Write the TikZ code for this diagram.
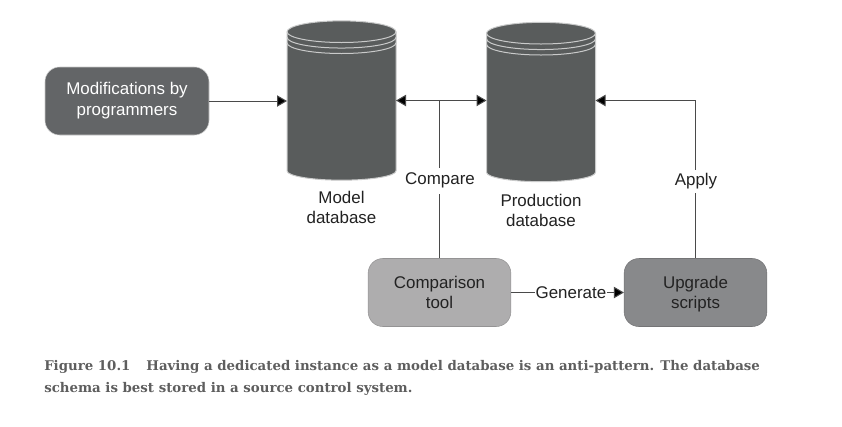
\documentclass[tikz,border=0pt]{standalone}
\usepackage{fontspec}
\setmainfont{Liberation Sans}
\newfontfamily\capfont{DejaVu Serif}
\usetikzlibrary{arrows.meta, positioning}
\definecolor{disk}{HTML}{595C5C}
\definecolor{rim}{HTML}{C9CACA}
\definecolor{wire}{HTML}{4A4A4A}
\definecolor{ink}{HTML}{222222}
\definecolor{capgray}{HTML}{5E5E5E}
\definecolor{modsfill}{HTML}{636567}
\definecolor{cmpfill}{HTML}{AEADAE}
\definecolor{upgfill}{HTML}{88898B}
\tikzset{
	disknode/.style={rectangle, minimum width=81.75pt, minimum height=119.5pt, inner sep=0pt, outer sep=0pt},
	diskbody/.style={fill=disk, draw=rim, line width=0.75pt},
	rimline/.style={draw=rim, line width=0.75pt},
	boxnode/.style={rectangle, rounded corners=11pt, draw=#1!85!black, fill=#1, minimum width=107pt, minimum height=51pt, align=center, text=ink, inner sep=0pt, font=\fontsize{12.7}{15}\selectfont},
	lbl/.style={align=center, text=ink, fill=white, inner sep=1.5pt, font=\fontsize{12.7}{15}\selectfont},
	wireline/.style={draw=wire, line width=0.75pt},
	arrowline/.style={wireline, -{Triangle[length=7.5pt,width=8.5pt,fill=black]}}
}
\begin{document}
\begin{tikzpicture}[x=0.75pt,y=-0.75pt]
	\useasboundingbox (0,0) rectangle (842,426);
	\node[boxnode=modsfill, draw=rim, text=white, minimum width=123pt, font=\fontsize{12.7}{15.75}\selectfont] (mods) at (127,101) {Modifications by\\programmers};
	\node[disknode] (model) at (341.5,100.5) {};
	\node[disknode] (prod) at (541,102) {};
	\foreach \d in {model,prod} {
		\draw[diskbody] ([yshift=-8.25pt]\d.north west) arc[start angle=180, end angle=0, x radius=40.875pt, y radius=8.25pt] -- ([yshift=7pt]\d.south east) arc[start angle=0, end angle=-180, x radius=40.875pt, y radius=7pt] -- cycle;
		\foreach \s in {8.25,12.4,16.5}
			\draw[rimline] ([yshift=-\s pt]\d.north west) arc[start angle=180, end angle=360, x radius=40.875pt, y radius=8pt];
	}
	\node[below=6.5pt of model, lbl] (modeltxt) {Model\\database};
	\node[lbl] (prodtxt) at (541,210.5) {Production\\database};
	\node[boxnode=cmpfill] (cmp) at (439.5,292.5) {Comparison\\tool};
	\node[boxnode=upgfill] (upg) at (695.5,292.5) {Upgrade\\\smash{scripts}};
	\coordinate (tee) at (cmp.north |- model.east);
	\coordinate (bend) at (upg.north |- model.east);
	\draw[arrowline] (mods.east) -- (mods.east -| model.west);
	\draw[arrowline, {Triangle[length=7.5pt,width=8.5pt,fill=black]}-{Triangle[length=7.5pt,width=8.5pt,fill=black]}] (model.east) -- (prod.west |- model.east);
	\draw[wireline] (cmp.north) -- (tee);
	\node[lbl, inner ysep=4pt] (cmptxt) at (440,180.5) {Compare};
	\draw[arrowline] (upg.north) -- (bend) -- (prod.east |- bend);
	\node[lbl, inner ysep=2.5pt] (applytxt) at (696,181.5) {Apply};
	\draw[arrowline] (cmp.east) -- node[lbl, pos=0.53, inner sep=0.5pt] (gentxt) {Generate} (upg.west);
	\node[anchor=north west, inner sep=0pt, text=capgray, align=left, font=\capfont\bfseries\fontsize{10}{16.2}\selectfont] (caption) at (44,360) {Figure 10.1\hspace{1.2em}Having a dedicated instance as a model database is an anti-pattern. The database\\schema is best stored in a source control system.};
\end{tikzpicture}
\end{document}
